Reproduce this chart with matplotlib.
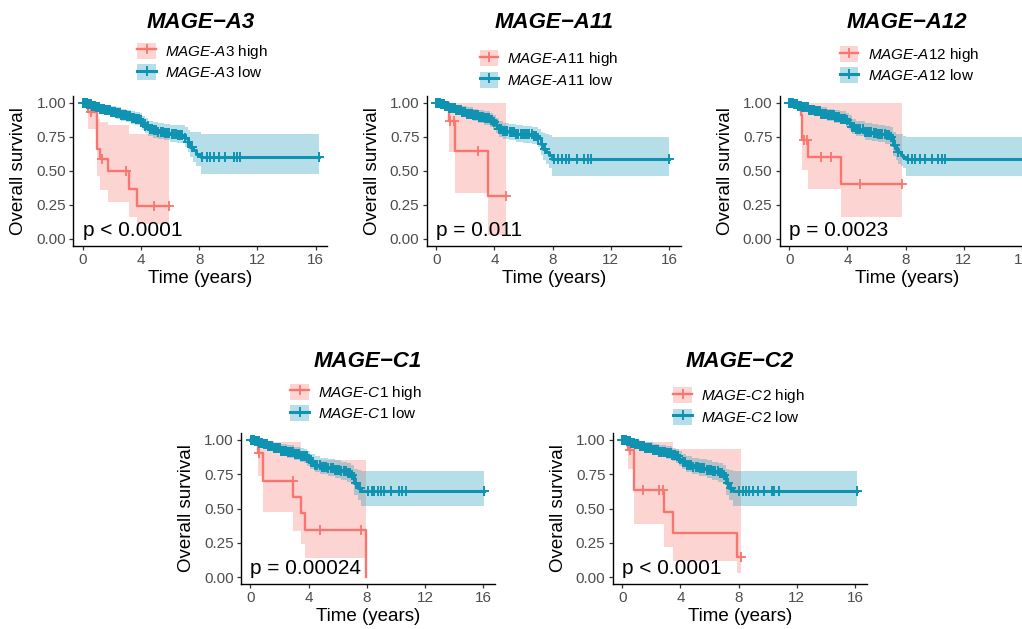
import numpy as np
import matplotlib
matplotlib.use('Agg')
import matplotlib.pyplot as plt
from matplotlib.patches import Patch
from matplotlib.lines import Line2D
from matplotlib.legend_handler import HandlerTuple

plt.rcParams['font.family'] = ['Liberation Sans', 'DejaVu Sans']
plt.rcParams['mathtext.fontset'] = 'custom'
plt.rcParams['mathtext.rm'] = 'Liberation Sans'
plt.rcParams['mathtext.it'] = 'Liberation Sans:italic'
plt.rcParams['mathtext.bf'] = 'Liberation Sans:bold'

# ---------------- data ----------------
genes = ['MAGE-A3', 'MAGE-A11', 'MAGE-A12', 'MAGE-C1', 'MAGE-C2']
p_labels = ['p < 0.0001', 'p = 0.011', 'p = 0.0023', 'p = 0.00024', 'p < 0.0001']
x_ticks = [0, 4, 8, 12, 16]
y_ticks = [0.0, 0.25, 0.5, 0.75, 1.0]
y_tick_labels = ['0.00', '0.25', '0.50', '0.75', '1.00']

# "high" expression groups: step times, survival, CI upper/lower, end time, censor times
a3_high_t = [0, 0.35, 0.95, 1.2, 1.75, 3.15, 3.72]
a3_high_s = [1.0, 0.933, 0.665, 0.59, 0.50, 0.37, 0.245]
a3_high_up = [1.0, 1.0, 0.88, 0.86, 0.84, 0.775, 0.775]
a3_high_lo = [1.0, 0.81, 0.46, 0.36, 0.27, 0.16, 0.11]
a3_high_end = 5.9
a3_high_cens = [0.6, 1.3, 3.0, 4.9, 5.9]

a11_high_t = [0, 0.85, 1.3, 3.55]
a11_high_s = [1.0, 0.868, 0.645, 0.318]
a11_high_up = [1.0, 1.0, 1.0, 1.0]
a11_high_lo = [1.0, 0.64, 0.34, 0.03]
a11_high_end = 4.8
a11_high_cens = [0.98, 1.2, 2.86, 4.8]

a12_high_t = [0, 0.8, 0.9, 1.31, 3.57]
a12_high_s = [1.0, 0.91, 0.727, 0.604, 0.403]
a12_high_up = [1.0, 1.0, 1.0, 1.0, 1.0]
a12_high_lo = [1.0, 0.75, 0.506, 0.367, 0.159]
a12_high_end = 7.72
a12_high_cens = [1.05, 1.22, 2.19, 2.88, 4.84, 7.72]

c1_high_t = [0, 0.5, 0.85, 2.95, 3.5, 3.72, 7.93]
c1_high_s = [1.0, 0.903, 0.70, 0.587, 0.466, 0.345, 0.0]
c1_high_up = [1.0, 1.0, 0.988, 0.988, 0.854, 0.854, 0.0]
c1_high_lo = [1.0, 0.74, 0.473, 0.337, 0.24, 0.143, 0.0]
c1_high_end = 7.93
c1_high_cens = [0.6, 2.9, 4.8, 7.6]

c2_high_t = [0, 0.4, 0.84, 2.9, 3.5, 7.9]
c2_high_s = [1.0, 0.927, 0.636, 0.473, 0.32, 0.15]
c2_high_up = [1.0, 1.0, 0.988, 0.988, 0.934, 0.934]
c2_high_lo = [1.0, 0.79, 0.386, 0.223, 0.114, 0.03]
c2_high_end = 8.13
c2_high_cens = [0.55, 1.4, 2.55, 2.78, 8.13]

# "low" expression groups
a3_low_t = [0, 0.3, 0.6, 0.9, 1.2, 1.5, 1.9, 2.3, 2.6, 3.0, 3.3, 3.6, 3.9, 4.1, 4.3, 4.5,
            4.8, 5.2, 5.6, 6.0, 6.5, 7.0, 7.2, 7.4, 7.6, 7.8, 8.1]
a3_low_s = [1.0, 0.99, 0.98, 0.968, 0.958, 0.948, 0.935, 0.925, 0.912, 0.902, 0.892, 0.884,
            0.872, 0.85, 0.83, 0.81, 0.80, 0.79, 0.782, 0.775, 0.765, 0.745, 0.71, 0.68,
            0.655, 0.628, 0.60]
a3_low_up = [1.0, 1.0, 1.0, 0.995, 0.99, 0.983, 0.975, 0.967, 0.958, 0.95, 0.942, 0.935,
             0.925, 0.905, 0.888, 0.87, 0.86, 0.852, 0.845, 0.84, 0.835, 0.82, 0.80, 0.79,
             0.79, 0.79, 0.77]
a3_low_lo = [1.0, 0.97, 0.955, 0.94, 0.925, 0.912, 0.897, 0.885, 0.87, 0.857, 0.845, 0.835,
             0.822, 0.80, 0.78, 0.757, 0.745, 0.735, 0.725, 0.715, 0.705, 0.68, 0.64, 0.60,
             0.565, 0.535, 0.475]
a3_low_end = 16.25
a3_low_cens_late = [8.2, 8.54, 8.77, 9.05, 9.34, 9.8, 10.4, 10.6, 10.8, 16.25]

a11_low_t = [0, 0.3, 0.6, 0.9, 1.3, 1.7, 2.1, 2.5, 2.9, 3.3, 3.7, 3.9, 4.1, 4.3, 4.6, 5.0,
             5.5, 6.0, 6.6, 7.0, 7.2, 7.35, 7.55, 7.75, 7.95]
a11_low_s = [1.0, 0.99, 0.98, 0.965, 0.95, 0.935, 0.922, 0.91, 0.898, 0.888, 0.874, 0.86,
             0.835, 0.81, 0.795, 0.785, 0.775, 0.77, 0.758, 0.74, 0.70, 0.665, 0.64, 0.615,
             0.585]
a11_low_up = [1.0, 1.0, 1.0, 0.995, 0.988, 0.978, 0.968, 0.958, 0.948, 0.94, 0.93, 0.915,
              0.89, 0.87, 0.855, 0.845, 0.838, 0.832, 0.825, 0.81, 0.79, 0.78, 0.775, 0.765,
              0.75]
a11_low_lo = [1.0, 0.97, 0.955, 0.935, 0.915, 0.895, 0.88, 0.865, 0.85, 0.838, 0.822, 0.805,
              0.78, 0.75, 0.735, 0.725, 0.715, 0.708, 0.695, 0.675, 0.62, 0.58, 0.55, 0.52,
              0.46]
a11_low_end = 16.0
a11_low_cens_late = [8.11, 8.39, 8.62, 8.91, 9.14, 9.71, 10.17, 10.4, 10.63, 16.0]

a12_low_t = [0, 0.3, 0.6, 0.9, 1.3, 1.7, 2.2, 2.6, 3.1, 3.5, 3.9, 4.1, 4.3, 4.6, 5.2, 5.7,
             6.1, 6.6, 6.9, 7.15, 7.35, 7.5, 7.7, 7.85, 8.06]
a12_low_s = [1.0, 0.99, 0.98, 0.968, 0.952, 0.94, 0.922, 0.91, 0.897, 0.886, 0.873, 0.85,
             0.825, 0.81, 0.787, 0.78, 0.775, 0.765, 0.75, 0.69, 0.665, 0.64, 0.62, 0.604,
             0.585]
a12_low_up = [1.0, 1.0, 1.0, 0.995, 0.988, 0.98, 0.968, 0.958, 0.948, 0.94, 0.93, 0.91,
              0.885, 0.87, 0.85, 0.845, 0.84, 0.83, 0.82, 0.79, 0.775, 0.77, 0.77, 0.76, 0.75]
a12_low_lo = [1.0, 0.97, 0.955, 0.94, 0.92, 0.905, 0.885, 0.87, 0.855, 0.842, 0.826, 0.80,
              0.77, 0.755, 0.73, 0.72, 0.71, 0.70, 0.68, 0.61, 0.58, 0.555, 0.535, 0.52, 0.46]
a12_low_end = 16.3
a12_low_cens_late = [8.18, 8.41, 8.64, 8.99, 9.33, 9.79, 10.25, 10.48, 10.71, 16.3]

c1_low_t = [0, 0.3, 0.6, 0.9, 1.2, 1.6, 2.1, 2.5, 3.0, 3.4, 3.7, 3.9, 4.1, 4.4, 4.8, 5.3,
            5.8, 6.2, 6.6, 6.9, 7.13, 7.36, 7.59]
c1_low_s = [1.0, 0.99, 0.98, 0.968, 0.955, 0.94, 0.922, 0.91, 0.896, 0.886, 0.879, 0.86,
            0.84, 0.818, 0.805, 0.794, 0.783, 0.77, 0.758, 0.745, 0.684, 0.65, 0.625]
c1_low_up = [1.0, 1.0, 1.0, 0.995, 0.99, 0.98, 0.968, 0.96, 0.95, 0.942, 0.935, 0.92, 0.90,
             0.88, 0.868, 0.858, 0.85, 0.84, 0.83, 0.82, 0.79, 0.78, 0.775]
c1_low_lo = [1.0, 0.97, 0.955, 0.94, 0.925, 0.905, 0.885, 0.87, 0.855, 0.842, 0.835, 0.812,
             0.79, 0.765, 0.75, 0.738, 0.725, 0.71, 0.695, 0.68, 0.60, 0.56, 0.52]
c1_low_end = 16.05
c1_low_cens_late = [8.05, 8.32, 8.5, 8.73, 8.96, 9.19, 9.65, 10.2, 10.4, 10.7, 16.05]

c2_low_t = [0, 0.3, 0.6, 0.9, 1.2, 1.6, 2.1, 2.5, 3.0, 3.4, 3.7, 3.9, 4.1, 4.4, 4.8, 5.3,
            5.8, 6.2, 6.6, 6.9, 7.13, 7.36, 7.59]
c2_low_s = [1.0, 0.99, 0.98, 0.97, 0.956, 0.942, 0.927, 0.915, 0.903, 0.89, 0.879, 0.86,
            0.84, 0.818, 0.805, 0.794, 0.783, 0.77, 0.758, 0.745, 0.684, 0.65, 0.625]
c2_low_up = [1.0, 1.0, 1.0, 0.996, 0.99, 0.982, 0.97, 0.962, 0.952, 0.944, 0.935, 0.92, 0.90,
             0.88, 0.868, 0.858, 0.85, 0.84, 0.83, 0.82, 0.79, 0.78, 0.775]
c2_low_lo = [1.0, 0.97, 0.955, 0.942, 0.926, 0.907, 0.89, 0.875, 0.86, 0.845, 0.835, 0.812,
             0.79, 0.765, 0.75, 0.738, 0.725, 0.71, 0.695, 0.68, 0.60, 0.56, 0.515]
c2_low_end = 16.1
c2_low_cens_late = [8.05, 8.27, 8.5, 8.73, 8.96, 9.3, 9.76, 10.28, 10.44, 10.78, 16.1]

# dense early censoring in the low groups
low_cens_early = [0.02, 0.06, 0.1, 0.14, 0.18, 0.22, 0.27, 0.32, 0.38, 0.45, 0.5, 0.56, 0.62,
                  0.7, 0.76, 0.82, 0.9, 0.97, 1.05, 1.12, 1.2, 1.28, 1.35, 1.43, 1.5, 1.6,
                  1.68, 1.75, 1.85, 1.92, 2.0, 2.1, 2.2, 2.3, 2.38, 2.46, 2.55, 2.65, 2.75,
                  2.85, 2.95, 3.05, 3.15, 3.25, 3.35, 3.45, 3.55, 3.65, 3.75, 3.85, 4.0, 4.15,
                  4.3, 4.45, 4.6, 4.75, 4.9, 5.05, 5.2, 5.35, 5.5, 5.65, 5.8, 5.95, 6.1, 6.25,
                  6.4, 6.55, 6.7, 6.85, 7.0, 7.25, 7.5]

panels = [
    (a3_high_t, a3_high_s, a3_high_up, a3_high_lo, a3_high_end, a3_high_cens,
     a3_low_t, a3_low_s, a3_low_up, a3_low_lo, a3_low_end, a3_low_cens_late),
    (a11_high_t, a11_high_s, a11_high_up, a11_high_lo, a11_high_end, a11_high_cens,
     a11_low_t, a11_low_s, a11_low_up, a11_low_lo, a11_low_end, a11_low_cens_late),
    (a12_high_t, a12_high_s, a12_high_up, a12_high_lo, a12_high_end, a12_high_cens,
     a12_low_t, a12_low_s, a12_low_up, a12_low_lo, a12_low_end, a12_low_cens_late),
    (c1_high_t, c1_high_s, c1_high_up, c1_high_lo, c1_high_end, c1_high_cens,
     c1_low_t, c1_low_s, c1_low_up, c1_low_lo, c1_low_end, c1_low_cens_late),
    (c2_high_t, c2_high_s, c2_high_up, c2_high_lo, c2_high_end, c2_high_cens,
     c2_low_t, c2_low_s, c2_low_up, c2_low_lo, c2_low_end, c2_low_cens_late),
]

# ---------------- layout (pixels) ----------------
W, H = 1022, 629
AX_W = 254.0
layout = [
    dict(left=73.3, top=96.2, h=149.6, leg=(202.5, 61.5), title_y=23.0),
    dict(left=426.7, top=96.2, h=149.6, leg=(549.0, 69.0), title_y=23.0),
    dict(left=779.7, top=96.2, h=149.6, leg=(909.5, 64.7), title_y=22.0),
    dict(left=241.0, top=433.0, h=151.0, leg=(356.0, 402.5), title_y=361.7),
    dict(left=612.7, top=433.0, h=151.0, leg=(739.0, 406.0), title_y=361.7),
]

RED = '#F8766D'
BLUE = '#0E93B3'
TICK_GRAY = '#4D4D4D'

fig = plt.figure(figsize=(W / 100, H / 100), dpi=100)


def step_arrays(t, s, up, lo, end):
    tt = np.append(np.asarray(t, float), end)
    ss = np.append(np.asarray(s, float), s[-1])
    uu = np.append(np.asarray(up, float), up[-1])
    ll = np.append(np.asarray(lo, float), lo[-1])
    return tt, ss, uu, ll


def surv_at(t, s, times):
    idx = np.searchsorted(np.asarray(t, float), np.asarray(times, float), side='right') - 1
    return np.asarray(s, float)[idx]


for gene, p_lab, pan, lay in zip(genes, p_labels, panels, layout):
    (ht, hs, hu, hl, he, hc, lt, ls, lu, ll, le, lc) = pan
    left, top, h = lay['left'], lay['top'], lay['h']
    ax = fig.add_axes([left / W, 1 - (top + h) / H, AX_W / W, h / H])
    ax.set_xlim(-0.65, 16.8)
    ax.set_ylim(-0.05, 1.05)

    htt, hss, huu, hll = step_arrays(ht, hs, hu, hl, he)
    ltt, lss, luu, lll = step_arrays(lt, ls, lu, ll, le)

    ax.fill_between(htt, hll, huu, step='post', color=RED, alpha=0.3, lw=0)
    ax.fill_between(ltt, lll, luu, step='post', color=BLUE, alpha=0.3, lw=0)
    ax.step(htt, hss, where='post', color=RED, lw=1.7)
    ax.plot(hc, surv_at(ht, hs, hc), ls='none', marker='+', ms=7.5, mew=1.3, color=RED)
    ax.step(ltt, lss, where='post', color=BLUE, lw=2.2)
    low_c = list(low_cens_early) + list(lc)
    ax.plot(low_c, surv_at(lt, ls, low_c), ls='none', marker='+', ms=7.5, mew=1.4,
            color=BLUE)

    ax.text(0, 0.025, p_lab, fontsize=15, ha='left', va='baseline', color='black')

    ax.set_xticks(x_ticks)
    ax.set_yticks(y_ticks)
    ax.set_yticklabels(y_tick_labels)
    for side in ('top', 'right'):
        ax.spines[side].set_visible(False)
    for side in ('left', 'bottom'):
        ax.spines[side].set_color('black')
        ax.spines[side].set_linewidth(1.0)
    ax.tick_params(axis='both', length=3, width=0.9, color='#333333',
                   labelsize=11, labelcolor=TICK_GRAY, pad=2.2)
    ax.patch.set_alpha(0)

    cx = left + AX_W / 2
    cy = top + h / 2
    fig.text(cx / W, 1 - lay['title_y'] / H, gene.replace('-', '\u2212'),
             fontsize=16, fontweight='bold', fontstyle='italic', ha='center', va='center')
    fig.text((left - 54.5) / W, 1 - cy / H, 'Overall survival', rotation=90,
             fontsize=13.5, ha='center', va='center')
    fig.text(cx / W, 1 - (top + h + 32.5) / H, 'Time (years)', fontsize=13.5,
             ha='center', va='center')

    g1, g2 = gene.split('-')
    lab_high = r'$\mathit{' + g1 + r'}$-$\mathit{' + g2 + r'}$ high'
    lab_low = r'$\mathit{' + g1 + r'}$-$\mathit{' + g2 + r'}$ low'
    h_high = (Patch(facecolor=RED, alpha=0.3, edgecolor='none'),
              Line2D([], [], color=RED, lw=1.7, marker='+', ms=7.5, mew=1.3))
    h_low = (Patch(facecolor=BLUE, alpha=0.3, edgecolor='none'),
             Line2D([], [], color=BLUE, lw=2.2, marker='+', ms=7.5, mew=1.4))
    lx, ly = lay['leg']
    fig.legend([h_high, h_low], [lab_high, lab_low], loc='center',
               bbox_to_anchor=(lx / W, 1 - ly / H), frameon=False, fontsize=11,
               handler_map={tuple: HandlerTuple(ndivide=1, pad=0)}, numpoints=1,
               handlelength=1.2, handleheight=1.25, labelspacing=0.2,
               handletextpad=0.6, borderpad=0, borderaxespad=0)

fig.savefig('out.png', dpi=100)
